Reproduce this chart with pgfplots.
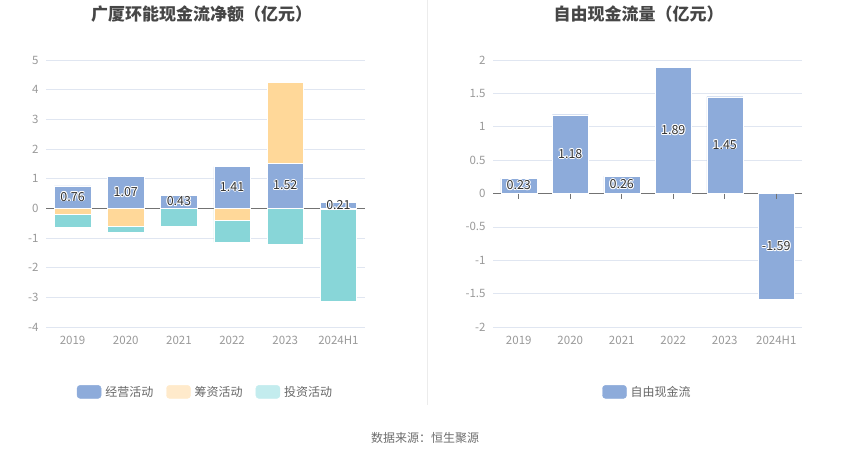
\documentclass[border=0pt]{standalone}
\usepackage{pgfplots}
\pgfplotsset{compat=1.18}
\usepackage{pgfplotstable}
\usepackage{fontspec}
\setmainfont{Noto Sans CJK SC}
\usepackage[copies]{contour}
\contourlength{0.9pt}
\contournumber{8}
\definecolor{opc}{HTML}{8DABDA}
\definecolor{finc}{HTML}{FFD899}
\definecolor{invc}{HTML}{88D6D8}
\definecolor{finl}{HTML}{FFEACB}
\definecolor{invl}{HTML}{C3ECEE}
\definecolor{gridc}{HTML}{E0E6F1}
\definecolor{tickc}{HTML}{999999}
\definecolor{titlec}{HTML}{464646}
\definecolor{labc}{HTML}{333333}

\pgfplotstableread{
x op fin inv
0 0.76 -0.19 -0.46
1 1.07 -0.59 -0.23
2 0.43 -0.01 -0.59
3 1.41 -0.39 -0.76
4 1.52 2.72 -1.20
5 0.21 -0.04 -3.09
}\cashtable

\pgfplotstableread{
x fcf
0 0.23
1 1.18
2 0.26
3 1.89
4 1.45
5 -1.59
}\fcftable

\pgfplotsset{
  common/.style={
    scale only axis,
    xmin=-0.5, xmax=5.5,
    xtick={0,1,2,3,4,5},
    xticklabels={2019,2020,2021,2022,2023,2024H1},
    axis line style={draw=none},
    major tick length=0pt,
    tick label style={font=\fontsize{11.5}{13}\selectfont, text=tickc},
    /pgf/number format/assume math mode=true,
    ymajorgrids,
    grid style={gridc, line width=0.7pt},
    extra y ticks={0},
    extra y tick labels={},
    extra y tick style={grid style={color=gray!90!black, line width=0.8pt}},
    xticklabel style={yshift=-6pt},
    yticklabel style={xshift=-4pt},
    clip=false,
    legend cell align=left,
    legend style={draw=none, fill=none, font=\fontsize{12}{14}\selectfont\color{gray!80!black}, legend columns=-1,
      /tikz/every odd column/.append style={column sep=2pt},
      /tikz/every even column/.append style={column sep=11pt}},
  },
  lab/.style={draw=none, mark=none, nodes near coords, point meta=explicit,
    every node near coord/.style={anchor=center, font=\fontsize{12.5}{14}\selectfont, text=labc},
    nodes near coords={\contour{white}{\pgfmathprintnumber[fixed,precision=2,fixed zerofill]{\pgfplotspointmeta}}}},
}

\begin{document}
\begin{tikzpicture}
\useasboundingbox (0pt,0pt) rectangle (850pt,459pt);
\draw[color=gray!15, line width=0.8pt] (427.5pt,459pt) -- (427.5pt,54pt);

\begin{axis}[common,
  at={(46pt,132pt)}, anchor=south west,
  width=319pt, height=267pt,
  ymin=-4, ymax=5, ytick={-4,-3,-2,-1,0,1,2,3,4,5},
  title={\textbf{广厦环能现金流净额（亿元）}},
  title style={at={(0.5,1)}, anchor=center, yshift=40pt, xshift=-4pt, font=\fontsize{17}{19}\selectfont, text=titlec},
  legend style={at={(0.5,-0.243)}, anchor=center},
]
% investing (negative stack outer)
\addplot[ybar, bar width=36.5pt, bar shift=0pt, fill=invc, draw=white, line width=0.4pt, forget plot]
  table[x=x, y expr={min(\thisrow{fin},0)+min(\thisrow{inv},0)}] {\cashtable};
% financing
\addplot[ybar, bar width=36.5pt, bar shift=0pt, fill=finc, draw=white, line width=0.4pt, forget plot]
  table[x=x, y expr={\thisrow{fin}>0 ? \thisrow{op}+\thisrow{fin} : \thisrow{fin}}] {\cashtable};
% operating
\addplot[ybar, bar width=36.5pt, bar shift=0pt, fill=opc, draw=white, line width=0.4pt, forget plot]
  table[x=x, y=op] {\cashtable};
\addplot[lab, forget plot] table[x=x, y expr={\thisrow{op}/2}, meta=op] {\cashtable};
\addlegendimage{legend image code/.code={\fill[opc, rounded corners=3pt] (0pt,-6.5pt) rectangle (24pt,6.5pt);}}
\addlegendentry{经营活动}
\addlegendimage{legend image code/.code={\fill[finl, rounded corners=3pt] (0pt,-6.5pt) rectangle (24pt,6.5pt);}}
\addlegendentry{筹资活动}
\addlegendimage{legend image code/.code={\fill[invl, rounded corners=3pt] (0pt,-6.5pt) rectangle (24pt,6.5pt);}}
\addlegendentry{投资活动}
\end{axis}

\begin{axis}[common,
  at={(493pt,132pt)}, anchor=south west,
  width=309pt, height=267pt,
  ymin=-2, ymax=2, ytick={-2,-1.5,-1,-0.5,0,0.5,1,1.5,2},
  title={\textbf{自由现金流量（亿元）}},
  title style={at={(0.5,1)}, anchor=center, yshift=40pt, xshift=-9pt, font=\fontsize{17}{19}\selectfont, text=titlec},
  legend style={at={(0.5,-0.243)}, anchor=center},
]
\addplot[only marks, mark=|, mark size=2.5pt, mark options={gray!90!black, line width=0.6pt, yshift=-2.5pt}, forget plot]
  table[x=x, y expr=0] {\fcftable};
\addplot[ybar, bar width=36pt, bar shift=0pt, fill=opc, draw=white, line width=0.4pt, forget plot]
  table[x=x, y=fcf] {\fcftable};
\addplot[lab, forget plot] table[x=x, y expr={\thisrow{fcf}/2}, meta=fcf] {\fcftable};
\addlegendimage{legend image code/.code={\fill[opc, rounded corners=3pt] (0pt,-6.5pt) rectangle (24pt,6.5pt);}}
\addlegendentry{自由现金流}
\end{axis}

\node[font=\fontsize{12}{14}\selectfont, text=gray!85!black] at (425pt,21pt) {数据来源：恒生聚源};
\end{tikzpicture}
\end{document}
